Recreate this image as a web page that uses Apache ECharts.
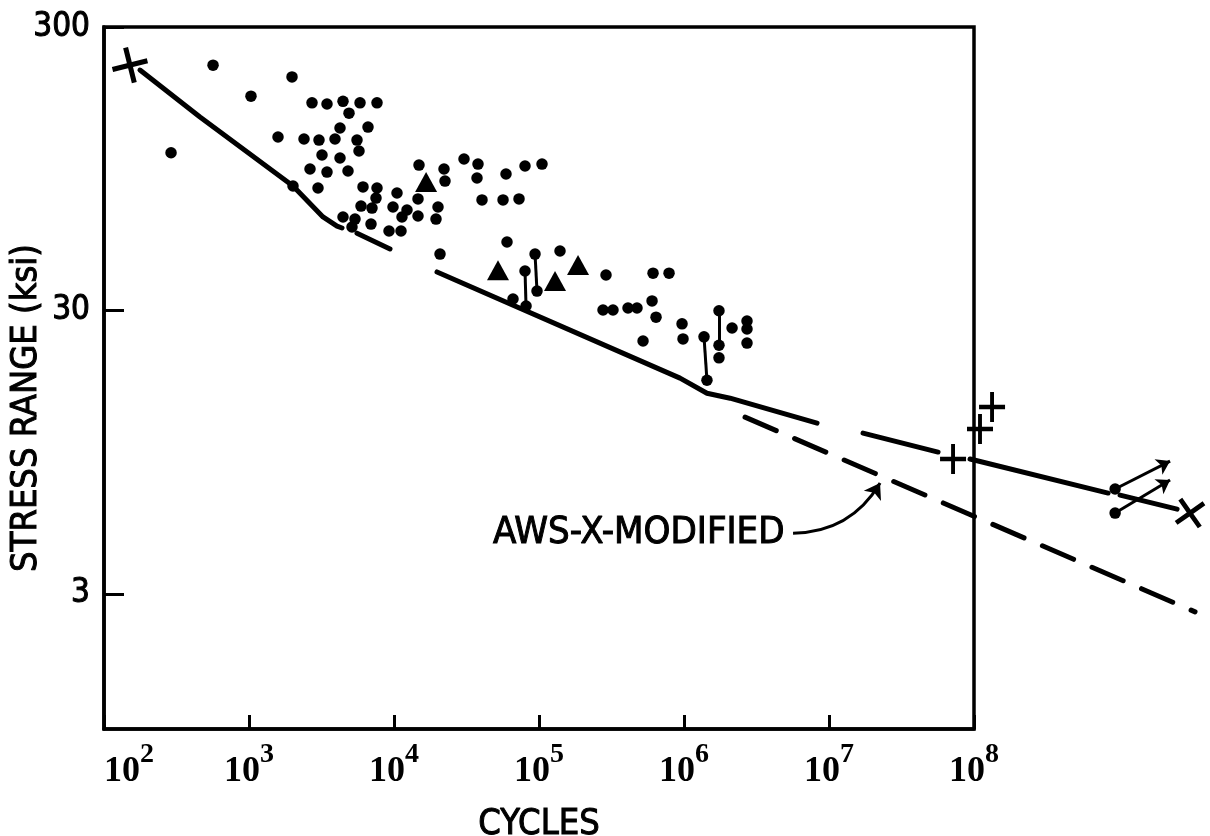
<!DOCTYPE html>
<html><head><meta charset="utf-8">
<script src="https://cdn.jsdelivr.net/npm/echarts@6/dist/echarts.min.js"></script>
<style>html,body{margin:0;padding:0;background:#fff}#c{width:1210px;height:836px}</style>
</head><body><div id="c"></div>
<script>
// ---- data (cycles N, stress range S in ksi) ----
const xTickValues = [1e2, 1e3, 1e4, 1e5, 1e6, 1e7, 1e8];
const yTickValues = [3, 30, 300];
const yTickLabels = ['3', '30', '300'];
const xTitle = 'CYCLES';
const yTitle = 'STRESS RANGE (ksi)';
const annotation = 'AWS-X-MODIFIED';

const dots = [
  [565,220],[1980,200],[1032,171],[290,108],[2720,162],[3451,160.5],[4450,164],[5830,162],[7636,162],
  [4894,149],[4242,132],[6619,133],[1585,122.7],[2395,120.7],[3039,119.7],[3918,120.7],[5556,119.7],
  [5737,109.5],[3187,106],[4242,103.5],[2635,94.6],[3451,92.3],[4817,93.1],[2991,81.1],[2012,82.4],
  [6112,81.8],[7636,81.1],[10490,77.9],[14870,97.7],[22130,94.6],[22480,85.8],[30400,102.6],[37960,98.5],
  [37370,88.0],[59230,90.9],[80100,97.0],[104900,98.5],[40460,73.6],[56490,73.6],[72820,74.2],[14640,74.2],
  [20120,69.5],[19490,63.0],[14640,64.6],[12290,67.8],[11350,64.1],[9842,69.5],[7515,74.7],[7052,68.9],
  [5922,70.0],[4450,64.1],[5383,63.0],[5133,59.1],[6941,60.5],[9240,57.2],[11180,57.2],[20770,47.4],
  [60180,52.3],[80100,41.3],[81400,31.1],[93900,47.4],[96900,35.1],[139600,48.6],[289900,40.0],
  [611600,40.6],[788600,40.6],[66190,32.9],[276400,30.1],[323800,30.1],[411100,30.6],[474200,30.6],
  [602000,32.4],[641400,28.4],[521800,23.4],[969200,26.9],[984700,23.8],[1.374e6,24.2],[1.44e6,17.0],
  [1.743e6,29.9],[1.743e6,22.6],[1.743e6,20.4],[2.145e6,26.0],[2.72e6,27.5],[2.72e6,25.8],[2.72e6,23.0]
];
const triangles = [[16650,85.1],[52150,41.6],[128990,38.1],[185900,43.4]];
const plusMarks = [[7.17e7,8.97],[1.1e8,11.44],[1.332e8,13.68]];
const crossStart = [[151,220]];
const crossEnd = [[3.09e9,5.78]];
const runoutDots = [[9.4e8,7.03],[9.4e8,5.78]];
const runoutArrows = [
  [[9.4e8,7.03],[2.25e9,8.82]],
  [[9.4e8,5.78],[2.25e9,7.56]]
];
const pairedBars = [
  [[80100,41.3],[81400,31.1]],
  [[93900,47.4],[96900,35.1]],
  [[1.374e6,24.2],[1.44e6,17.0]],
  [[1.743e6,29.9],[1.743e6,22.6]]
];
const solidCurve = [
  [177,211.5],[459,144.4],[2012,82.4],[3238,64.1],[4046,59.5],[4380,58.6], null,
  [5556,56.2],[9387,49.4], null,
  [19800,41.0],[938900,17.3],[1.44e6,15.3],[2.078e6,14.7],[8.27e6,12.0], null,
  [1.717e7,11.07],[5.65e7,9.49], null,
  [9.39e7,8.97],[8.41e8,6.80], null,
  [1.017e9,6.69],[2.515e9,5.97]
];
const dashedCurve = [[2.636e6,12.6],[3.345e9,2.59]];
const annotationArrow = [[5.65e6,4.91],[2.25e7,7.38]];

// ---- chart ----
const SANS = '"Liberation Sans Narrow","DejaVu Sans Condensed","Liberation Sans",sans-serif';
const SERIF = '"Liberation Serif","DejaVu Serif",serif';
const INK = '#000';

function splitSegments(arr) {
  const segs = []; let cur = [];
  arr.forEach(p => { if (p === null) { if (cur.length) segs.push(cur); cur = []; } else cur.push(p); });
  if (cur.length) segs.push(cur);
  return segs;
}

const series = [];
series.push({
  type: 'lines', coordinateSystem: 'cartesian2d', polyline: true, clip: false, silent: true, z: 2,
  data: splitSegments(solidCurve).map(seg => ({ coords: seg })),
  lineStyle: { color: INK, width: 5, cap: 'round', join: 'round', opacity: 1 }
});
series.push({
  type: 'lines', coordinateSystem: 'cartesian2d', polyline: true, clip: false, silent: true, z: 2,
  data: [{ coords: dashedCurve }],
  lineStyle: { color: INK, width: 5, cap: 'round', type: [34, 20], opacity: 1 }
});
series.push({
  type: 'lines', coordinateSystem: 'cartesian2d', clip: false, silent: true, z: 2,
  data: pairedBars.map(c => ({ coords: c })),
  lineStyle: { color: INK, width: 3, curveness: 0, opacity: 1 }
});
series.push({
  type: 'lines', coordinateSystem: 'cartesian2d', clip: false, silent: true, z: 3,
  data: runoutArrows.map(c => ({ coords: c })),
  symbol: ['none', 'arrow'], symbolSize: 13,
  lineStyle: { color: INK, width: 3, curveness: 0, opacity: 1 }
});
series.push({
  type: 'lines', coordinateSystem: 'cartesian2d', clip: false, silent: true, z: 3,
  data: [{ coords: annotationArrow }],
  symbol: ['none', 'arrow'], symbolSize: 15,
  lineStyle: { color: INK, width: 3, curveness: -0.28, opacity: 1 }
});
series.push({
  type: 'scatter', data: dots.concat(runoutDots), symbol: 'circle', symbolSize: 11.5, clip: false, silent: true, z: 4,
  itemStyle: { color: INK, opacity: 1 }
});
series.push({
  type: 'scatter', data: triangles, symbol: 'triangle', symbolSize: [22, 20], clip: false, silent: true, z: 4,
  itemStyle: { color: INK, opacity: 1 }
});
const PLUS_THIN = 'path://M8.5,0H11.5V8.5H20V11.5H11.5V20H8.5V11.5H0V8.5H8.5Z';
const PLUS_BOLD = 'path://M8.6,0H11.4V8.6H20V11.4H11.4V20H8.6V11.4H0V8.6H8.6Z';
series.push({
  type: 'scatter', data: plusMarks, symbol: PLUS_THIN, symbolSize: [26, 30], clip: false, silent: true, z: 4,
  itemStyle: { color: INK, opacity: 1 }
});
series.push({
  type: 'scatter', data: crossStart, symbol: PLUS_BOLD, symbolSize: 36, symbolRotate: 14, clip: false, silent: true, z: 4,
  itemStyle: { color: INK, opacity: 1 }
});
series.push({
  type: 'scatter', data: crossEnd, symbol: PLUS_BOLD, symbolSize: 34, symbolRotate: 35, clip: false, silent: true, z: 4,
  itemStyle: { color: INK, opacity: 1 }
});
series.push({
  type: 'scatter', data: [annotationArrow[0]], symbolSize: 1, clip: false, silent: true, z: 4,
  itemStyle: { color: 'rgba(0,0,0,0)' },
  label: { show: true, position: 'left', distance: 8, formatter: annotation, opacity: 1,
           color: INK, fontFamily: SANS, fontSize: 38, textBorderColor: INK, textBorderWidth: 1 }
});

const chart = echarts.init(document.getElementById('c'), null, { renderer: 'canvas' });
chart.setOption({
  backgroundColor: '#fff',
  animation: false,
  grid: { left: 104, right: 236, top: 27, bottom: 107, show: true, borderColor: INK, borderWidth: 3.5,
          containLabel: false, outerBoundsMode: 'none' },
  xAxis: {
    type: 'log', logBase: 10, min: 1e2, max: 1e8,
    name: xTitle, nameLocation: 'middle', nameGap: 78,
    nameTextStyle: { color: INK, fontFamily: SANS, fontSize: 36, textBorderColor: INK, textBorderWidth: 1 },
    axisLine: { show: true, lineStyle: { color: INK, width: 3.5 } },
    axisTick: { show: true, inside: true, length: 14, lineStyle: { color: INK, width: 3 }, customValues: xTickValues },
    axisLabel: {
      customValues: xTickValues, margin: 12, color: INK, alignMinLabel: 'left',
      formatter: v => '{b|10}{s|' + Math.round(Math.log10(v)) + '}',
      rich: {
        b: { fontFamily: SERIF, fontWeight: 'bold', fontSize: 36, color: INK, padding: [13, 0, 0, 0], verticalAlign: 'bottom' },
        s: { fontFamily: SERIF, fontWeight: 'bold', fontSize: 28, color: INK, verticalAlign: 'top' }
      }
    },
    splitLine: { show: false }, minorTick: { show: false }
  },
  yAxis: {
    type: 'log', logBase: 10, min: 1, max: 300,
    axisLine: { show: true, lineStyle: { color: INK, width: 3.5 } },
    axisTick: { show: true, inside: true, length: 20, lineStyle: { color: INK, width: 3 }, customValues: yTickValues },
    axisLabel: {
      customValues: yTickValues, margin: 14, color: INK, fontFamily: SANS, fontSize: 33,
      textBorderColor: INK, textBorderWidth: 1,
      formatter: v => yTickLabels[yTickValues.findIndex(t => Math.abs(t - v) / t < 1e-6)] || ''
    },
    splitLine: { show: false }, minorTick: { show: false }
  },
  graphic: [{
    type: 'text', x: 27, y: 408, rotation: Math.PI / 2, silent: true,
    style: { text: yTitle, fill: INK, fontFamily: SANS, fontSize: 36, align: 'center', verticalAlign: 'middle',
             stroke: INK, lineWidth: 1 }
  }],
  series: series
});
</script></body></html>
